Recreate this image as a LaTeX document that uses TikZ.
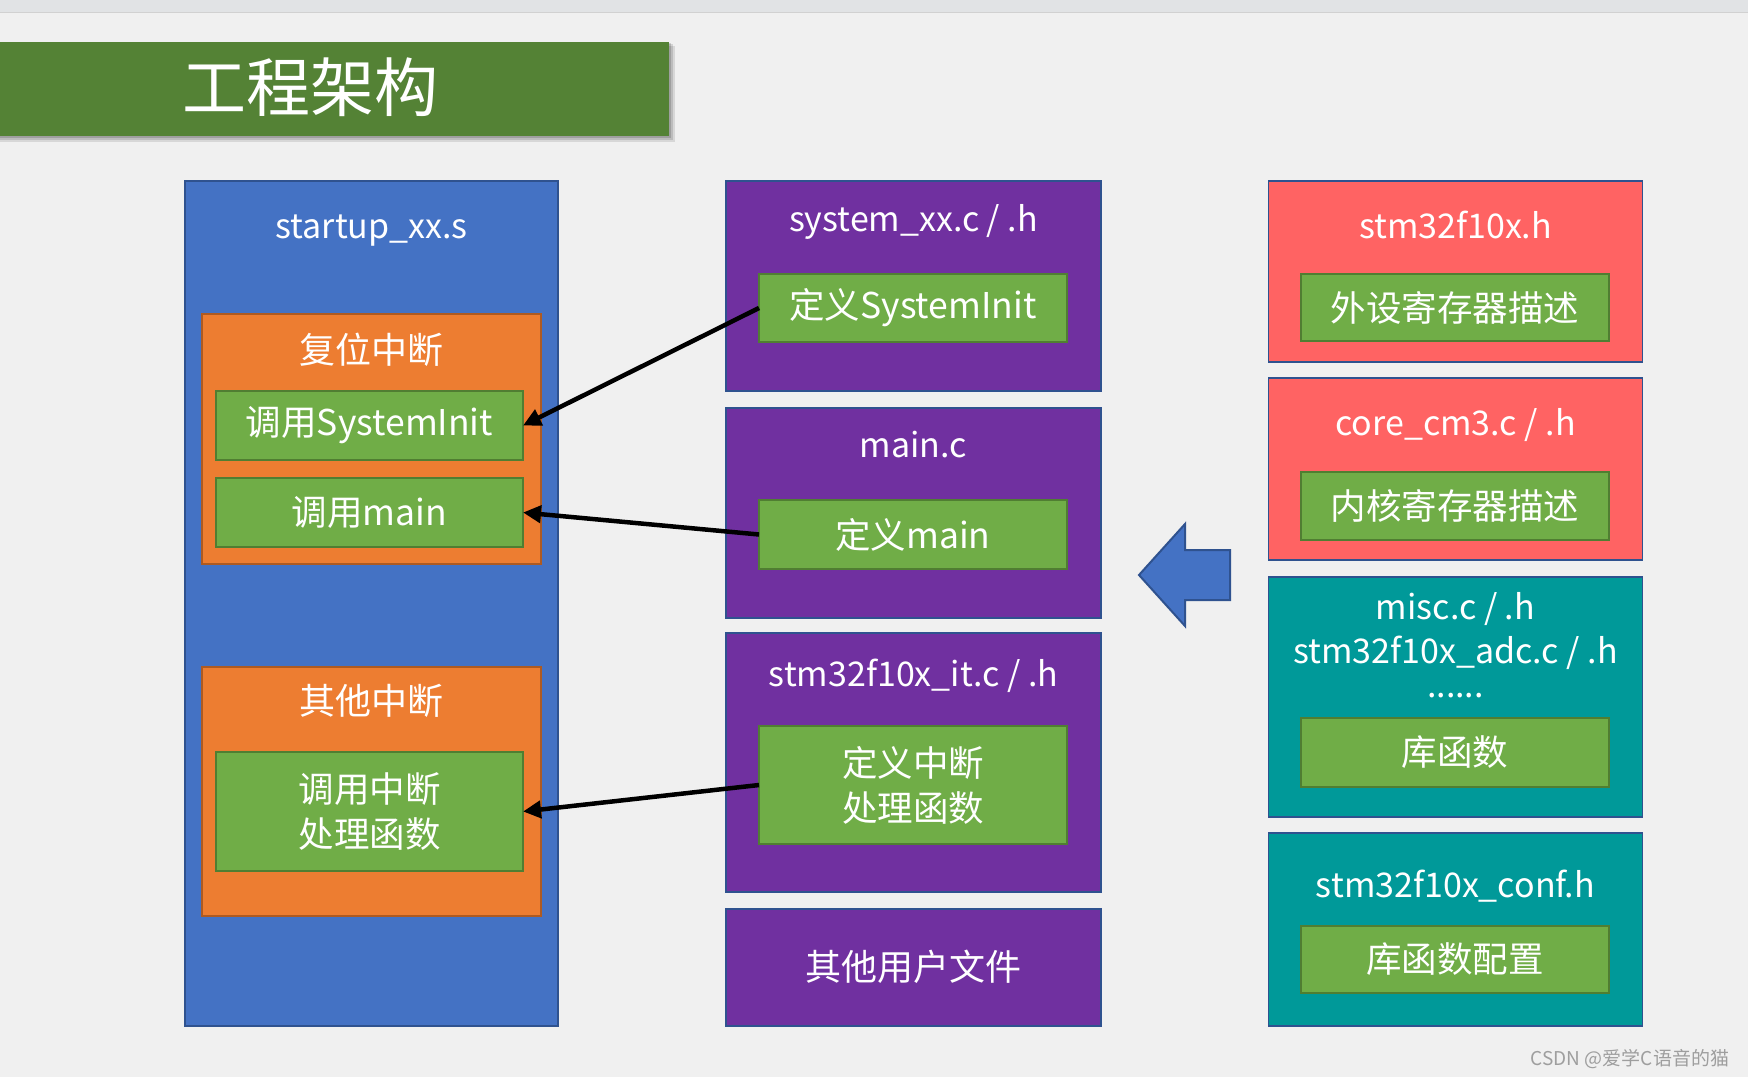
\documentclass[tikz,border=0pt]{standalone}
\usepackage{fontspec}
\setmainfont{Noto Sans CJK SC}
\usetikzlibrary{arrows.meta}
\definecolor{bgc}{HTML}{F0F0F0}
\definecolor{topband}{HTML}{E1E3E5}
\definecolor{titlegreen}{HTML}{548235}
\definecolor{bluef}{HTML}{4472C4}
\definecolor{blued}{HTML}{2F528F}
\definecolor{orangef}{HTML}{ED7D31}
\definecolor{oranged}{HTML}{AE5A21}
\definecolor{greenf}{HTML}{70AD47}
\definecolor{greend}{HTML}{507E32}
\definecolor{purplef}{HTML}{7030A0}
\definecolor{redf}{HTML}{FF6363}
\definecolor{tealf}{HTML}{009999}
\tikzset{
  boxbase/.style={anchor=north west, inner sep=0pt, outer sep=0pt, line width=1.5pt},
  bluebox/.style={boxbase, fill=bluef, draw=blued},
  orangebox/.style={boxbase, fill=orangef, draw=oranged},
  purplebox/.style={boxbase, fill=purplef, draw=blued},
  redbox/.style={boxbase, fill=redf, draw=blued},
  tealbox/.style={boxbase, fill=tealf, draw=blued},
  greenbox/.style={boxbase, fill=greenf, draw=greend, line width=2pt, text=white,
     font=\fontsize{35.5}{45}\selectfont, align=center},
  txt/.style={text=white, inner sep=0pt, font=\fontsize{34}{40}\selectfont},
  cjktxt/.style={text=white, inner sep=0pt, font=\fontsize{36}{45}\selectfont},
  conn/.style={line width=4.5pt, -{Triangle[length=18pt,width=17pt]}},
}
\begin{document}
\begin{tikzpicture}[x=1pt,y=-1pt]
\useasboundingbox (0,0) rectangle (1748,1077);
\fill[bgc] (0,0) rectangle (1748,1077);
\fill[topband] (0,0) rectangle (1748,12);
\draw[line width=1pt, black!18] (0,12.5) -- (1748,12.5);

% title with shadow
\fill[black, opacity=0.10] (0,46) rectangle (675,142);
\fill[black, opacity=0.12] (0,44) rectangle (673,140);
\fill[black, opacity=0.15] (0,43) rectangle (671,138);
\node[boxbase, fill=titlegreen, minimum width=669pt, minimum height=94pt, line width=0pt] (titlebar) at (0,42) {};
\node[text=white, inner sep=0pt, font=\fontsize{64}{70}\selectfont] (title) at (310,87) {工程架构};

% left column
\node[bluebox, minimum width=373pt, minimum height=845pt] (startup) at (185,181) {};
\node[txt, anchor=base] (startupT) at (371.5,238) {startup\_xx.s};
\node[orangebox, minimum width=339pt, minimum height=250pt] (reset) at (202,314) {};
\node[cjktxt] (resetT) at (371.5,350) {复位中断};
\node[greenbox, minimum width=307pt, minimum height=69pt] (callinit) at (216,391) {调用SystemInit};
\node[greenbox, minimum width=307pt, minimum height=69pt] (callmain) at (216,478) {调用main};
\node[orangebox, minimum width=339pt, minimum height=249pt] (other) at (202,667) {};
\node[cjktxt] (otherT) at (371.5,701) {其他中断};
\node[greenbox, minimum width=307pt, minimum height=119pt] (callirq) at (216,752) {调用中断\\处理函数};

% middle column
\node[purplebox, minimum width=375pt, minimum height=210pt] (sysfile) at (726,181) {};
\node[txt, anchor=base] (sysfileT) at (913.5,231) {system\_xx.c / .h};
\node[greenbox, minimum width=308pt, minimum height=68pt] (definit) at (759,274) {定义SystemInit};
\node[purplebox, minimum width=375pt, minimum height=210pt] (mainfile) at (726,408) {};
\node[txt, anchor=base] (mainfileT) at (913.5,457) {main.c};
\node[greenbox, minimum width=308pt, minimum height=69pt] (defmain) at (759,500) {定义main};
\node[purplebox, minimum width=375pt, minimum height=259pt] (itfile) at (726,633) {};
\node[txt, anchor=base] (itfileT) at (913.5,686) {stm32f10x\_it.c / .h};
\node[greenbox, minimum width=308pt, minimum height=118pt] (defirq) at (759,726) {定义中断\\处理函数};
\node[purplebox, minimum width=375pt, minimum height=117pt] (userfile) at (726,909) {};
\node[cjktxt] (userfileT) at (913.5,967) {其他用户文件};

% right column
\node[redbox, minimum width=374pt, minimum height=181pt] (stmh) at (1268.5,181) {};
\node[txt, anchor=base] (stmhT) at (1455.5,238) {stm32f10x.h};
\node[greenbox, minimum width=308pt, minimum height=67pt] (periph) at (1301,274) {外设寄存器描述};
\node[redbox, minimum width=374pt, minimum height=182pt] (core) at (1268.5,378) {};
\node[txt, anchor=base] (coreT) at (1455.5,435) {core\_cm3.c / .h};
\node[greenbox, minimum width=308pt, minimum height=68pt] (corereg) at (1301,472) {内核寄存器描述};
\node[tealbox, minimum width=374pt, minimum height=240pt] (lib) at (1268.5,577) {};
\node[txt, anchor=base] (libT1) at (1455.5,619) {misc.c / .h};
\node[txt, anchor=base] (libT2) at (1455.5,663) {stm32f10x\_adc.c / .h};
\node[txt, anchor=base] (libT3) at (1455.5,697) {......};
\node[greenbox, minimum width=308pt, minimum height=69pt] (libfn) at (1301,718) {库函数};
\node[tealbox, minimum width=374pt, minimum height=193pt] (conf) at (1268.5,833) {};
\node[txt, anchor=base] (confT) at (1455.5,897) {stm32f10x\_conf.h};
\node[greenbox, minimum width=308pt, minimum height=67pt] (libconf) at (1301,926) {库函数配置};

% block arrow
\filldraw[fill=bluef, draw=blued, line width=2pt, line join=miter]
  (1139,575) -- (1185,524) -- (1185,550) -- (1230,550) -- (1230,600) -- (1185,600) -- (1185,626) -- cycle;

% connectors
\draw[conn] (definit.west) -- (callinit.east);
\draw[conn] (defmain.west) -- (callmain.east);
\draw[conn] (defirq.west) -- (callirq.east);

% watermark
\node[text=black!38, inner sep=0pt, font=\fontsize{19}{21}\selectfont] (wm) at (1630,1059) {CSDN @爱学C语音的猫};
\end{tikzpicture}
\end{document}
